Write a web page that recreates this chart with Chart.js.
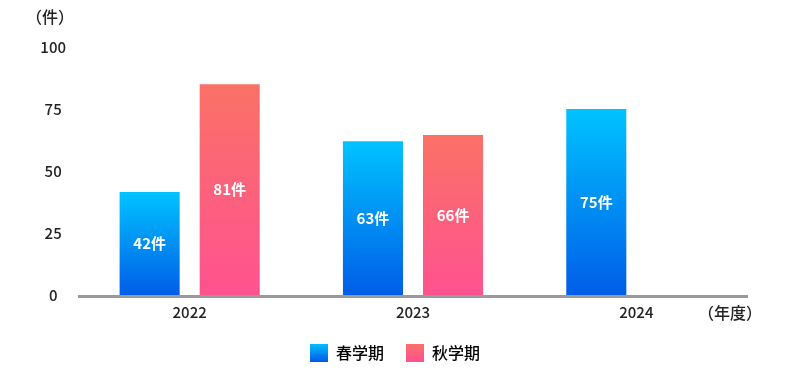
<!DOCTYPE html>
<html lang="ja">
<head>
<meta charset="utf-8">
<script src="https://cdn.jsdelivr.net/npm/chart.js@4.4.1/dist/chart.umd.min.js"></script>
<style>
  html, body { margin: 0; padding: 0; background: #fff; }
  #wrap { width: 790px; height: 380px; }
</style>
</head>
<body>
<div id="wrap"><canvas id="kensuChart" width="790" height="380"></canvas></div>
<script>
// data
const years = ["2022", "2023", "2024"];
const springValues = [41.5, 62, 75];
const autumnValues = [85, 64.5, null];
const springLabels = ["42件", "63件", "75件"];
const autumnLabels = ["81件", "66件", ""];
const yTicks = [0, 25, 50, 75, 100];

const FONT = "'Noto Sans CJK JP', 'Noto Sans', sans-serif";

// vertical gradient for each bar, from its top to the baseline
function barGradient(top, bottom) {
  return function (context) {
    const chart = context.chart;
    const { ctx, chartArea, scales } = chart;
    if (!chartArea || context.raw == null) return top;
    const y0 = scales.y.getPixelForValue(context.raw);
    const y1 = scales.y.getPixelForValue(0);
    const g = ctx.createLinearGradient(0, y0, 0, y1);
    g.addColorStop(0, top);
    g.addColorStop(1, bottom);
    return g;
  };
}

// labels in the middle of each bar, axis units, baseline
const extraText = {
  id: "extraText",
  afterLayout(chart) {
    // center the legend on the whole canvas, not only the plot
    const lg = chart.legend;
    if (lg) {
      lg.left = 0;
      lg.right = chart.width;
      lg.width = chart.width;
    }
  },
  afterDatasetsDraw(chart) {
    const { ctx, chartArea } = chart;
    ctx.save();
    ctx.font = "bold 15px " + FONT;
    ctx.fillStyle = "#fff";
    ctx.textAlign = "center";
    ctx.textBaseline = "middle";
    chart.data.datasets.forEach((ds, di) => {
      const meta = chart.getDatasetMeta(di);
      meta.data.forEach((bar, i) => {
        const txt = ds.valueLabels[i];
        if (!txt) return;
        ctx.fillText(txt, bar.x, (bar.y + bar.base) / 2);
      });
    });

    // baseline
    ctx.fillStyle = "#999";
    ctx.fillRect(chartArea.left, chartArea.bottom, chartArea.right - chartArea.left, 3);

    ctx.font = "500 16px " + FONT;
    ctx.fillStyle = "#222";
    ctx.fillText("（件）", 50, 17);
    ctx.fillText("（年度）", 730, 313);
    ctx.restore();
  },
};

const legendGrad = (top, bottom) => {
  const c = document.getElementById("kensuChart").getContext("2d");
  const g = c.createLinearGradient(0, 343, 0, 361);
  g.addColorStop(0, top);
  g.addColorStop(1, bottom);
  return g;
};

new Chart(document.getElementById("kensuChart"), {
  type: "bar",
  data: {
    labels: years,
    datasets: [
      {
        label: "春学期",
        data: springValues,
        valueLabels: springLabels,
        backgroundColor: barGradient("#00c3ff", "#005de8"),
        legendFill: legendGrad("#00c3ff", "#005de8"),
        categoryPercentage: 0.717,
        barPercentage: 0.75,
      },
      {
        label: "秋学期",
        data: autumnValues,
        valueLabels: autumnLabels,
        backgroundColor: barGradient("#fa7166", "#ff5290"),
        legendFill: legendGrad("#fa7166", "#ff5290"),
        categoryPercentage: 0.717,
        barPercentage: 0.75,
      },
    ],
  },
  plugins: [extraText],
  options: {
    responsive: false,
    animation: false,
    layout: { padding: { top: 47, right: 42, left: 0, bottom: 8 } },
    scales: {
      x: {
        grid: { display: false, drawTicks: false },
        border: { display: false },
        ticks: { color: "#222", font: { family: FONT, size: 15, weight: "500" }, padding: 8 },
        afterFit: (scale) => { scale.height = 27; },
      },
      y: {
        min: 0,
        max: 100,
        afterBuildTicks: (scale) => {
          scale.ticks = yTicks.map((v) => ({ value: v }));
        },
        grid: { display: false, drawTicks: false },
        border: { display: false },
        ticks: {
          color: "#222",
          font: { family: FONT, size: 15, weight: "500" },
          crossAlign: "center",
          padding: 12,
        },
        afterFit: (scale) => { scale.width = 78; },
      },
    },
    plugins: {
      tooltip: { enabled: false },
      legend: {
        position: "bottom",
        labels: {
          boxWidth: 18,
          boxHeight: 18,
          padding: 22,
          color: "#333",
          font: { family: FONT, size: 16, weight: "500" },
          generateLabels: (chart) =>
            chart.data.datasets.map((ds, i) => ({
              text: ds.label,
              fillStyle: ds.legendFill,
              strokeStyle: "rgba(0,0,0,0)",
              lineWidth: 0,
              datasetIndex: i,
              hidden: false,
            })),
        },
      },
    },
  },
});
</script>
</body>
</html>
